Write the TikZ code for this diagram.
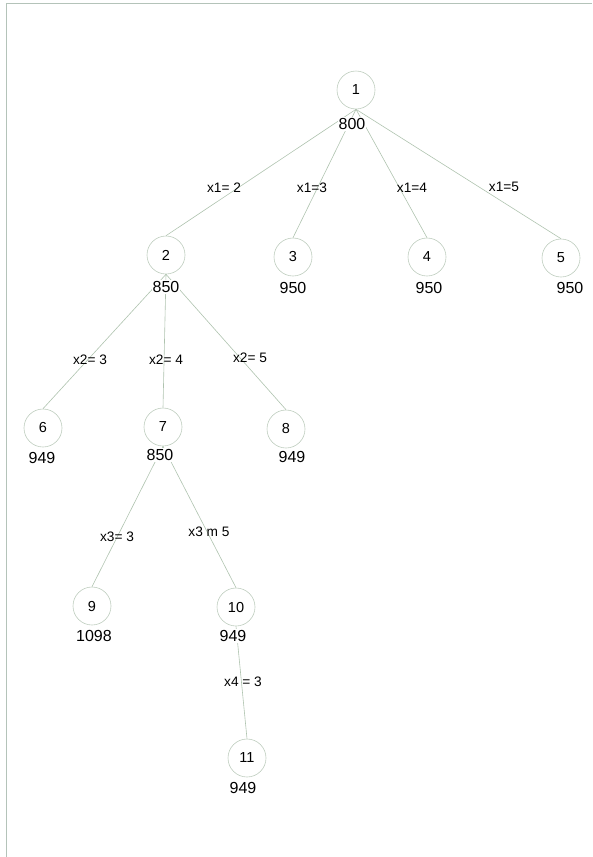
\documentclass[tikz,border=0pt]{standalone}
\usepackage{fontspec}
\setmainfont{Liberation Sans}
\definecolor{edgec}{RGB}{175,195,175}
\definecolor{circc}{RGB}{190,205,190}
\definecolor{framec}{RGB}{180,195,185}
\begin{document}
\begin{tikzpicture}[x=1pt,y=-1pt,
  treenode/.style={circle,draw=circc,line width=0.6pt,minimum size=38pt,inner sep=0pt,font=\fontsize{14.5}{16}\selectfont},
  vallabel/.style={fill=white,inner sep=1pt,font=\fontsize{16}{18}\selectfont},
  edgelabel/.style={inner sep=0pt,font=\fontsize{13.7}{15}\selectfont},
  conn/.style={draw=edgec,line width=0.6pt}]
\useasboundingbox (0,0) rectangle (592,857);
\draw[framec,line width=0.6pt] (6,857) -- (6,3) -- (592,3);
% tree nodes
\node[treenode] (n1) at (356,90) {1};
\node[treenode] (n2) at (166,255) {2};
\node[treenode] (n3) at (293,257) {3};
\node[treenode] (n4) at (427,257) {4};
\node[treenode] (n5) at (561,258) {5};
\node[treenode] (n6) at (43,428) {6};
\node[treenode] (n7) at (163,427) {7};
\node[treenode] (n8) at (286,429) {8};
\node[treenode] (n9) at (92,606) {9};
\node[treenode] (n10) at (236,607) {10};
\node[treenode] (n11) at (247,758) {11};
% connectors
\draw[conn] (n1.south) -- (n2.north);
\draw[conn] (n1.south) -- (n3.north);
\draw[conn] (n1.south) -- (n4.north);
\draw[conn] (n1.south) -- (n5.north);
\draw[conn] (n2.south) -- (n6.north);
\draw[conn] (n2.south) -- (n7.north);
\draw[conn] (n2.south) -- (n8.north);
\draw[conn] (n7.south) -- (n9.north);
\draw[conn] (n7.south) -- (n10.north);
\draw[conn] (n10.south) -- (n11.north);
% value labels
\node[vallabel] (v1) at (352,124) {800};
\node[vallabel] (v2) at (166,287) {850};
\node[vallabel] (v3) at (293,288) {950};
\node[vallabel] (v4) at (429,288) {950};
\node[vallabel] (v5) at (570,288) {950};
\node[vallabel] (v6) at (42,458) {949};
\node[vallabel] (v7) at (160,455) {850};
\node[vallabel] (v8) at (292,457) {949};
\node[vallabel] (v9) at (94,636) {1098};
\node[vallabel] (v10) at (233,636) {949};
\node[vallabel] (v11) at (243,788) {949};
% edge labels
\node[edgelabel] (e12) at (224,188) {x1= 2};
\node[edgelabel] (e13) at (312,188) {x1=3};
\node[edgelabel] (e14) at (412,188) {x1=4};
\node[edgelabel] (e15) at (504,187) {x1=5};
\node[edgelabel] (e26) at (90,360) {x2= 3};
\node[edgelabel] (e27) at (166,360) {x2= 4};
\node[edgelabel] (e28) at (250,358) {x2= 5};
\node[edgelabel] (e79) at (117,537) {x3= 3};
\node[edgelabel] (e710) at (209,532) {x3 m 5};
\node[edgelabel] (e1011) at (243,682) {x4 = 3};
\end{tikzpicture}
\end{document}
